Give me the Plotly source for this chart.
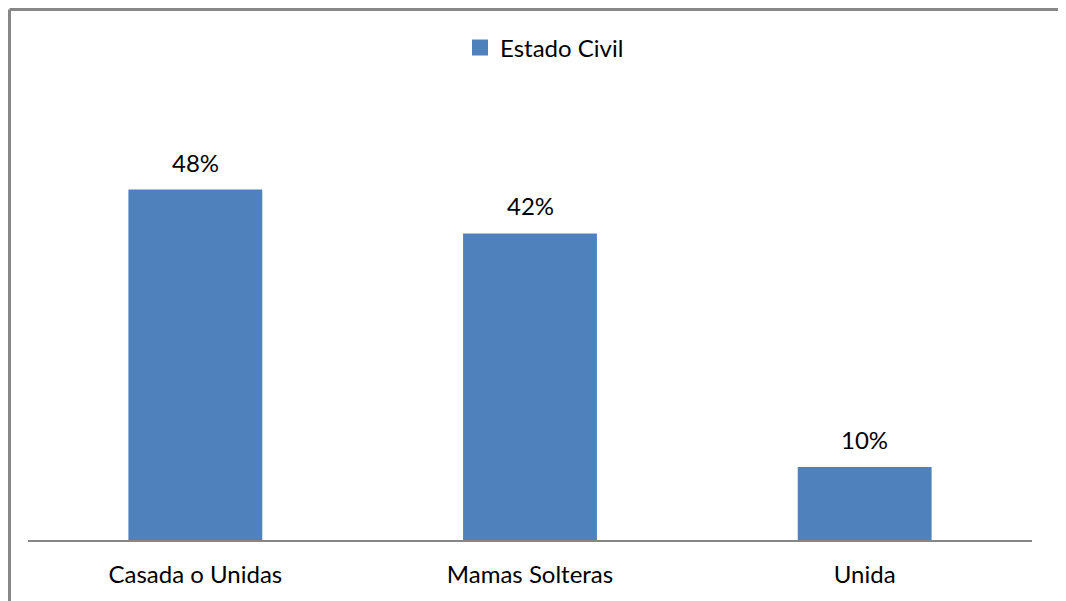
import plotly.graph_objects as go

categories = ["Casada o Unidas", "Mamas Solteras", "Unida"]
values = [48, 42, 10]
series_name = "Estado Civil"

W, H = 1058, 593
L, R, T, B = 20, 34, 94, 61
pw, ph = W - L - R, H - T - B

bar_color = "#4F81BD"
border_color = "#878787"
font_family = "Lato, 'Liberation Sans', Arial, sans-serif"
fs = 24

fig = go.Figure()
fig.add_trace(go.Bar(
    x=categories, y=values, marker=dict(color=bar_color, line=dict(width=0)),
    showlegend=False, hoverinfo="skip",
))
# legend entry
fig.add_trace(go.Scatter(
    x=[None], y=[None], mode="markers", name=series_name,
    marker=dict(symbol="square", size=16, color=bar_color),
))

for c, v in zip(categories, values):
    fig.add_annotation(
        x=c, y=v, text=f"{v}%", showarrow=False, yanchor="bottom",
        yshift=11, font=dict(size=fs, color="#000000", family=font_family),
    )

# chart border (left and top visible)
x0 = (1.5 - L) / pw
y0 = 1 + (T - 1.5) / ph
fig.add_shape(type="line", xref="paper", yref="paper", x0=x0, x1=(W + 10 - L) / pw,
              y0=y0, y1=y0, line=dict(color=border_color, width=3))
fig.add_shape(type="line", xref="paper", yref="paper", x0=x0, x1=x0,
              y0=y0, y1=-(B + 10) / ph, line=dict(color=border_color, width=3))

fig.update_layout(
    width=W, height=H,
    margin=dict(l=L, r=R, t=T, b=B, pad=0),
    paper_bgcolor="white", plot_bgcolor="white",
    bargap=0.6,
    font=dict(family=font_family, size=fs, color="#000000"),
    showlegend=True,
    legend=dict(orientation="h", x=(452 - L) / pw, xanchor="left",
                y=1 + (T - 40) / ph, yanchor="middle",
                font=dict(size=fs, color="#000000", family=font_family),
                itemwidth=30, bgcolor="rgba(0,0,0,0)"),
    xaxis=dict(showline=True, linecolor="#868686", linewidth=2, ticks="",
               showgrid=False, zeroline=False, tickfont=dict(size=fs),
               ticklabelstandoff=12),
    yaxis=dict(range=[0, 60], visible=False, showgrid=False, zeroline=False),
)

fig.write_html("out.html")
